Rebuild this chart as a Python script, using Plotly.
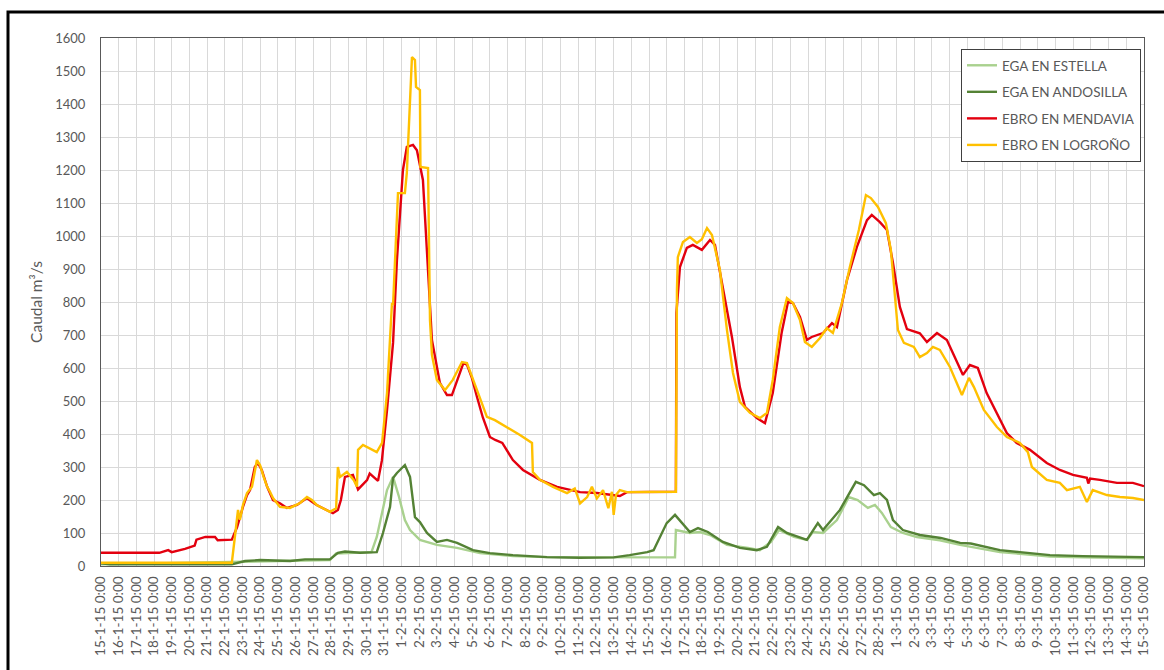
import pandas as pd
import plotly.graph_objects as go

# ---- data (days after 15-1-2015 0:00, caudal m3/s) ----
start = pd.Timestamp("2015-01-15")

estella_d = [0, 12.95, 13.3, 14.65, 15.3, 15.6, 16.18, 16.52, 16.86, 17.19, 17.48, 18.04, 19.0, 20.14, 21.44, 23.3,
             25.23, 32.47, 32.52, 33.31, 33.88, 34.45, 35.41, 36.6, 37.27, 37.9, 38.35, 39.2, 39.93, 40.27,
             40.84, 41.63, 42.3, 42.8, 43.38, 43.78, 44.17, 44.68, 45.36, 46.15, 47.45, 48.6, 49.94, 50.85,
             51.98, 53.68, 55.54, 59]
estella_v = [5, 18, 38, 40, 42, 88, 230, 270, 209, 139, 109, 79, 64, 55, 39, 30,
             27, 26, 109, 100, 103, 94, 64, 55, 48, 73, 109, 88, 79, 103,
             100, 139, 209, 200, 176, 185, 161, 118, 100, 88, 78, 64, 52, 42,
             37, 29, 26, 23]

andosilla_d = [0, 0.5, 7.4, 8.15, 9.0, 10.7, 11.54, 12.95, 13.4, 13.8, 14.65, 15.6, 15.95, 16.35, 16.52,
               16.74, 17.19, 17.48, 17.76, 18.04, 18.44, 19.0, 19.57, 20.14, 21.04, 22.0, 23.3, 25.23, 27.1,
               29.0, 29.9, 30.9, 31.26, 32.0, 32.47, 33.31, 33.77, 34.33, 35.18, 36.14, 37.1, 37.67, 38.3,
               38.8, 39.93, 40.55, 40.84, 41.8, 42.7, 43.16, 43.72, 44.06, 44.46, 44.8, 45.36, 46.32, 47.5,
               48.6, 49.2, 49.94, 50.85, 51.98, 53.68, 55.54, 59]
andosilla_v = [8, 5, 5, 15, 18, 15, 20, 20, 40, 44, 40, 42, 100, 179, 267,
               282, 306, 270, 148, 133, 100, 73, 79, 70, 48, 39, 33, 27, 25,
               26, 33, 42, 48, 130, 155, 103, 115, 103, 73, 55, 48, 58, 118,
               100, 79, 130, 109, 170, 255, 245, 215, 221, 200, 139, 109, 94, 85,
               70, 68, 58, 48, 42, 33, 30, 27]

mendavia_d = [0, 3.3, 3.8, 4.0, 4.75, 5.3, 5.4, 5.9, 6.45, 6.6, 7.4, 7.7, 8.03, 8.26, 8.43, 8.7, 8.88,
              9.1, 9.4, 9.73, 10.12, 10.52, 11.09, 11.65, 11.93, 12.2, 12.67, 13.12, 13.4, 13.57, 13.8,
              14.25, 14.54, 14.76, 15.05, 15.2, 15.5, 15.67, 15.89, 16.18, 16.52, 16.74, 17.08, 17.3,
              17.65, 17.87, 18.21, 18.5, 18.72, 19.17, 19.57, 19.85, 20.2, 20.5, 20.7, 20.98, 21.27, 21.6,
              22.0, 22.3, 22.7, 23.3, 23.87, 24.83, 25.8, 27.1, 28.05, 29.0, 29.35, 29.75, 32.52, 32.55,
              32.75, 33.14, 33.48, 33.99, 34.45, 34.73, 35.18, 35.69, 36.14, 36.43, 37.1, 37.56, 38.0,
              38.5, 38.86, 39.14, 39.54, 39.93, 40.2, 40.5, 40.84, 41.35, 41.63, 42.2, 42.76, 43.33,
              43.6, 44.06, 44.46, 44.8, 45.19, 45.59, 46.04, 46.32, 46.72, 47.29, 47.85, 48.76, 49.15,
              49.6, 50.1, 50.68, 51.24, 51.8, 52.55, 53.5, 54.24, 54.98, 55.77, 55.85, 55.95, 56.5,
              57.47, 58.37, 59]
mendavia_v = [40, 40, 48, 42, 52, 62, 80, 88, 88, 78, 80, 118, 179, 215, 230, 300, 312,
              290, 240, 200, 190, 176, 185, 206, 195, 185, 172, 160, 170, 200, 270,
              276, 232, 245, 260, 280, 265, 258, 320, 473, 676, 927, 1200, 1270,
              1276, 1260, 1170, 900, 685, 555, 518, 518, 570, 615, 610, 570, 512, 450,
              391, 382, 373, 321, 291, 261, 240, 224, 221, 215, 212, 224, 225, 767,
              906, 964, 973, 958, 988, 973, 845, 694, 542, 482, 448, 433, 524,
              706, 800, 797, 755, 685, 694, 700, 706, 736, 724, 867, 967, 1048,
              1064, 1042, 1018, 918, 785, 718, 710, 705, 679, 706, 685, 579, 609,
              600, 524, 464, 403, 373, 352, 312, 291, 276, 267, 250, 265, 261,
              252, 252, 242]

logrono_d = [0, 7.4, 7.6, 7.75, 7.86, 8.03, 8.26, 8.54, 8.82, 9.0, 9.2, 9.4, 9.56, 9.73, 10.12, 10.69,
             11.26, 11.65, 11.93, 12.2, 12.95, 13.3, 13.4, 13.52, 13.91, 14.3, 14.48, 14.54, 14.82, 15.2,
             15.6, 15.9, 16.18, 16.46, 16.52, 16.8, 17.19, 17.3, 17.48, 17.59, 17.76, 17.82, 18.04,
             18.07, 18.5, 18.61, 18.72, 19.0, 19.46, 19.9, 20.42, 20.7, 21.27, 21.83, 22.28, 22.96,
             23.7, 24.38, 24.43, 24.83, 25.57, 26.36, 26.8, 27.1, 27.5, 27.77, 28.05, 28.4, 28.7, 28.9,
             29.0, 29.13, 29.35, 29.75, 32.52, 32.58, 32.63, 32.92, 33.31, 33.71, 33.99, 34.28, 34.56,
             35.01, 35.41, 35.75, 36.14, 36.71, 37.27, 37.67, 38.0, 38.4, 38.8, 39.14, 39.54, 39.82,
             40.21, 40.67, 41.06, 41.4, 41.91, 42.36, 42.87, 43.27, 43.55, 43.95, 44.4, 44.68, 45.08,
             45.42, 45.98, 46.32, 46.72, 47.06, 47.45, 48.02, 48.7, 49.1, 49.38, 49.94, 50.68, 51.24,
             51.98, 52.43, 52.66, 53.5, 54.24, 54.64, 55.37, 55.77, 56.1, 56.9, 57.64, 58.37, 59]
logrono_v = [10, 10, 100, 170, 140, 185, 221, 240, 321, 305, 270, 240, 225, 206, 179, 176,
             191, 209, 200, 185, 164, 175, 300, 270, 285, 260, 240, 352, 367, 355,
             345, 373, 524, 797, 790, 1130, 1130, 1191, 1412, 1542, 1533, 1452, 1442,
             1209, 1206, 745, 640, 564, 533, 564, 618, 615, 533, 452, 442, 421,
             397, 373, 285, 261, 240, 221, 235, 190, 209, 240, 205, 230, 175, 225,
             155, 215, 230, 224, 225, 836, 936, 982, 997, 979, 990, 1024, 1003,
             897, 715, 585, 497, 464, 448, 464, 564, 724, 812, 797, 745, 679,
             664, 691, 721, 706, 797, 906, 1018, 1124, 1115, 1088, 1039, 958, 715,
             676, 664, 633, 645, 664, 655, 603, 518, 570, 542, 473, 421, 391,
             373, 345, 300, 261, 252, 230, 240, 194, 230, 215, 209, 206, 200]

series_names = ["EGA EN ESTELLA", "EGA EN ANDOSILLA", "EBRO EN MENDAVIA", "EBRO EN LOGROÑO"]
series_colors = ["#A9D18E", "#548235", "#E3000F", "#FFC000"]

tick_dates = pd.date_range("2015-01-15", "2015-03-15", freq="D")
tick_labels = [f"{d.day}-{d.month}-15 0:00" for d in tick_dates]

y_ticks = list(range(0, 1601, 100))


def to_dates(days):
    return [start + pd.Timedelta(days=float(d)) for d in days]


fig = go.Figure()
for name, color, dd, vv in zip(series_names, series_colors,
                               [estella_d, andosilla_d, mendavia_d, logrono_d],
                               [estella_v, andosilla_v, mendavia_v, logrono_v]):
    fig.add_trace(go.Scatter(x=to_dates(dd), y=vv, mode="lines", name=name,
                             legendgroup=name,
                             line=dict(color=color, width=2.4)))

L, R, T, B = 101, 1144, 38, 566
W, H = 1164, 670
pw, ph = R - L, B - T

fig.update_layout(
    width=W, height=H,
    margin=dict(l=L, r=W - R, t=T, b=H - B),
    paper_bgcolor="white", plot_bgcolor="white",
    font=dict(family="Lato, Carlito, Calibri, sans-serif", size=13, color="#595959"),
    showlegend=True,
    legend=dict(x=(961 - L) / pw, y=(B - 49) / ph, xanchor="left", yanchor="top",
                bgcolor="white", bordercolor="#404040", borderwidth=1,
                font=dict(size=13.5, color="#595959"), tracegroupgap=6,
                itemwidth=30),
    shapes=[dict(type="rect", xref="paper", yref="paper",
                 x0=(8 - L) / pw, x1=(1175 - L) / pw,
                 y0=(B - 690) / ph, y1=(B - 12) / ph,
                 line=dict(color="black", width=3), fillcolor="rgba(0,0,0,0)",
                 layer="above")],
)

fig.update_xaxes(
    type="date",
    range=[tick_dates[0], tick_dates[-1]],
    tickmode="array", tickvals=tick_dates, ticktext=tick_labels,
    tickangle=-90, tickfont=dict(size=13.5, color="#595959"),
    showgrid=True, gridcolor="#D9D9D9", gridwidth=1,
    showline=True, linecolor="#595959", linewidth=1, mirror=True,
    ticks="", ticklabelstandoff=4,
)
fig.update_yaxes(
    range=[0, 1600], tickmode="array", tickvals=y_ticks,
    tickfont=dict(size=13, color="#595959"),
    showgrid=True, gridcolor="#D9D9D9", gridwidth=1,
    showline=True, linecolor="#595959", linewidth=1, mirror=True,
    ticks="", ticklabelstandoff=12, zeroline=False,
    title=dict(text="Caudal m³/s", font=dict(size=15.5, color="#595959"), standoff=8),
)

fig.write_html("out.html")
